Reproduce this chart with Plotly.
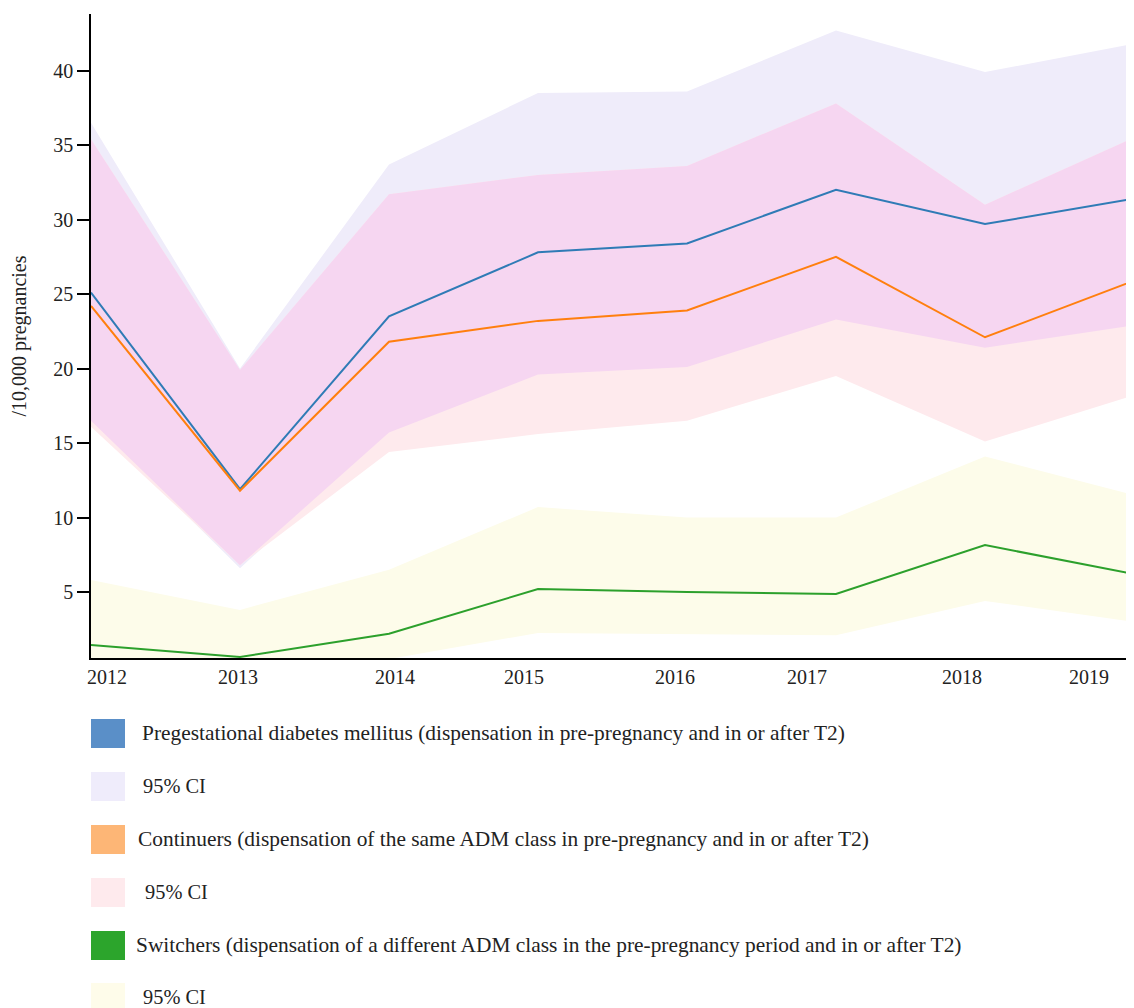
import plotly.graph_objects as go

# ---- data ----
years = ["2012", "2013", "2014", "2015", "2016", "2017", "2018", "2019"]

pgdm = [25.1, 11.9, 23.5, 27.8, 28.4, 32.0, 29.7, 31.4]
pgdm_lo = [16.5, 6.6, 15.7, 19.6, 20.1, 23.3, 21.4, 22.9]
pgdm_hi = [36.5, 20.0, 33.7, 38.5, 38.6, 42.7, 39.9, 41.8]

cont = [24.2, 11.8, 21.8, 23.2, 23.9, 27.5, 22.1, 25.9]
cont_lo = [16.1, 6.8, 14.4, 15.6, 16.5, 19.5, 15.1, 18.2]
cont_hi = [35.4, 19.9, 31.7, 33.0, 33.6, 37.8, 31.0, 35.5]

sw = [1.44, 0.64, 2.2, 5.2, 5.0, 4.87, 8.15, 6.2]
sw_lo = [0.0, 0.0, 0.5, 2.25, 2.2, 2.1, 4.4, 3.0]
sw_hi = [5.8, 3.8, 6.5, 10.7, 10.0, 10.0, 14.1, 11.5]

legend_labels = [
    "Pregestational diabetes mellitus (dispensation in pre-pregnancy and in or after T2)",
    "95% CI",
    "Continuers (dispensation of the same ADM class in pre-pregnancy and in or after T2)",
    "95% CI",
    "Switchers (dispensation of a different ADM class in the pre-pregnancy period and in or after T2)",
    "95% CI",
]

# ---- layout config (page has an 8px body margin) ----
OFF = 8
W, H = 1134 - OFF, 1008 - OFF
ML, MR, MT, MB = 91 - OFF, 0, 14 - OFF, 1008 - 658
tick_pos = [0.107, 0.987, 2.04, 2.906, 3.919, 4.805, 5.846, 6.698]

FONT = "Liberation Serif"
TXT = "#222222"

xs = list(range(len(years)))

fig = go.Figure()


def band(lo, hi, color):
    fig.add_trace(go.Scatter(
        x=xs + xs[::-1], y=list(hi) + list(lo)[::-1],
        fill="toself", fillcolor=color, mode="lines",
        line=dict(width=0), hoverinfo="skip", showlegend=False))


band(pgdm_lo, pgdm_hi, "#EFECFA")
band(cont_lo, cont_hi, "#FEEAED")
# overlap of the two intervals
ov_lo = [max(a, b) for a, b in zip(pgdm_lo, cont_lo)]
ov_hi = [min(a, b) for a, b in zip(pgdm_hi, cont_hi)]
band(ov_lo, ov_hi, "#F6D6F1")
band(sw_lo, sw_hi, "#FDFCEA")

for vals, col in [(pgdm, "#2f7bb6"), (cont, "#ff7f0e"), (sw, "#2ca02c")]:
    fig.add_trace(go.Scatter(x=xs, y=vals, mode="lines",
                             line=dict(color=col, width=2), showlegend=False))

# ---- custom legend (positions given in page pixels) ----
plot_w = W - ML - MR
plot_h = H - MT - MB


def px_x(p):
    return (p - OFF - ML) / plot_w


def px_y(p):
    return (H - MB - (p - OFF)) / plot_h


sq_colors = ["#5A8FC8", "#EFECFB", "#FDB676", "#FEEAED", "#2CA52C", "#FEFCEA"]
sq_tops = [719, 772, 825, 878, 931, 983]
txt_x = [140, 141, 136, 143, 134, 141]
txt_size = [21.4, 20.4, 21.4, 20.4, 21.4, 20.4]
for lab, col, top, tx, fs in zip(legend_labels, sq_colors, sq_tops, txt_x, txt_size):
    fig.add_shape(type="rect", xref="paper", yref="paper",
                  x0=px_x(91), x1=px_x(125), y0=px_y(top + 29), y1=px_y(top),
                  fillcolor=col, line=dict(width=0))
    fig.add_annotation(xref="paper", yref="paper", x=px_x(tx), y=px_y(top + 14),
                       xanchor="left", yanchor="middle", text=lab, showarrow=False,
                       font=dict(family=FONT, size=fs, color=TXT))

fig.update_layout(
    width=W, height=H,
    margin=dict(l=ML, r=MR, t=MT, b=MB, autoexpand=False),
    plot_bgcolor="white", paper_bgcolor="white",
    font=dict(family=FONT, size=20, color=TXT),
    xaxis=dict(range=[0, len(years) - 1], tickmode="array", tickvals=tick_pos,
               ticktext=years, showline=True, linecolor="black", linewidth=1.5,
               ticks="", showgrid=False, zeroline=False,
               tickfont=dict(family=FONT, size=20, color=TXT)),
    yaxis=dict(range=[0.57, 43.8], tickmode="array", tickvals=[5, 10, 15, 20, 25, 30, 35, 40],
               showline=True, linecolor="black", linewidth=1.5,
               ticks="outside", ticklen=12, tickwidth=1.5, tickcolor="black",
               showgrid=False, zeroline=False,
               tickfont=dict(family=FONT, size=20, color=TXT),
               title=dict(text="/10,000 pregnancies", standoff=23,
                          font=dict(family=FONT, size=20, color=TXT))),
)

fig.write_html("out.html")
